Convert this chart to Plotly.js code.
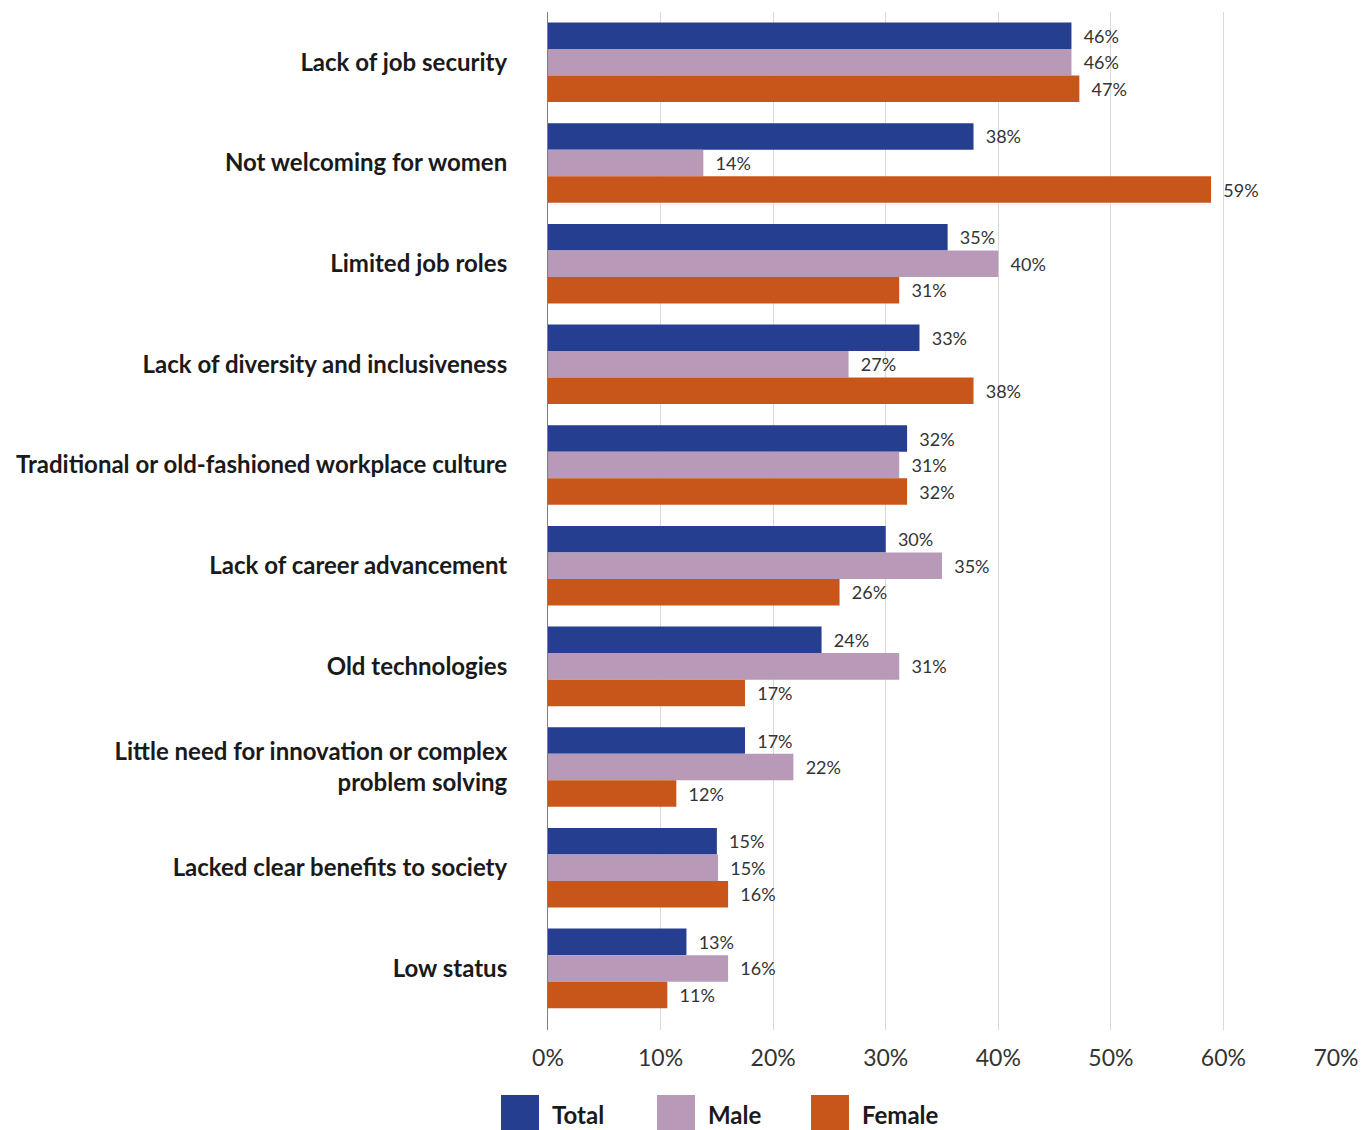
<!DOCTYPE html>
<html>
<head>
<meta charset="utf-8">
<script src="https://cdn.plot.ly/plotly-3.0.1.min.js"></script>
<style>html,body{margin:0;padding:0;background:#fff;}#chart{width:1368px;height:1130px;}</style>
</head>
<body>
<div id="chart"></div>
<script>
const categories = [
  "Lack of job security",
  "Not welcoming for women",
  "Limited job roles",
  "Lack of diversity and inclusiveness",
  "Traditional or old-fashioned workplace culture",
  "Lack of career advancement",
  "Old technologies",
  "Little need for innovation or complex<br>problem solving",
  "Lacked clear benefits to society",
  "Low status"
];
const totalValues  = [46.5, 37.8, 35.5, 33.0, 31.9, 30.0, 24.3, 17.5, 15.0, 12.3];
const maleValues   = [46.5, 13.8, 40.0, 26.7, 31.2, 35.0, 31.2, 21.8, 15.1, 16.0];
const femaleValues = [47.2, 58.9, 31.2, 37.8, 31.9, 25.9, 17.5, 11.4, 16.0, 10.6];
const totalLabels  = ["46%","38%","35%","33%","32%","30%","24%","17%","15%","13%"];
const maleLabels   = ["46%","14%","40%","27%","31%","35%","31%","22%","15%","16%"];
const femaleLabels = ["47%","59%","31%","38%","32%","26%","17%","12%","16%","11%"];
const seriesNames  = ["Total","Male","Female"];
const seriesColors = ["#253e8f","#b89ab8","#c8561a"];
const tickVals = [0,10,20,30,40,50,60,70];
const tickText = ["0%","10%","20%","30%","40%","50%","60%","70%"];

const FONT = "Lato, 'Open Sans', sans-serif";
const vals = [totalValues, maleValues, femaleValues];
const labs = [totalLabels, maleLabels, femaleLabels];

const traces = seriesNames.map((n, i) => ({
  type: "bar",
  orientation: "h",
  name: n,
  y: categories,
  x: vals[i],
  text: labs[i],
  texttemplate: "  %{text}",
  textposition: "outside",
  cliponaxis: false,
  textfont: {family: FONT, size: 18, color: "#333333"},
  marker: {color: seriesColors[i]},
  showlegend: false,
  hoverinfo: "skip"
}));

// custom legend built in paper coordinates
const shapes = [];
const annotations = [];
const legX = [501, 657, 811];
const W = 1368, H = 1130, L = 548, R = 32, T = 12, B = 100;
const pw = W - L - R, ph = H - T - B;
const px = x => (x - L) / pw;
const py = y => (H - B - y) / ph;
seriesNames.forEach((n, i) => {
  shapes.push({type: "rect", xref: "paper", yref: "paper",
    x0: px(legX[i]), x1: px(legX[i] + 38), y0: py(1133), y1: py(1095),
    fillcolor: seriesColors[i], line: {width: 0}});
  annotations.push({xref: "paper", yref: "paper", x: px(legX[i] + 49), y: py(1114),
    xanchor: "left", yanchor: "middle", showarrow: false, text: "<b>" + n + "</b>",
    font: {family: FONT, size: 24, color: "#1a1a1a"}});
});

const layout = {
  width: W, height: H,
  margin: {l: L, r: R, t: T, b: B, pad: 0},
  paper_bgcolor: "#ffffff",
  plot_bgcolor: "#ffffff",
  barmode: "group",
  bargap: 0.21,
  bargroupgap: 0,
  showlegend: false,
  font: {family: FONT},
  xaxis: {
    range: [0, 70],
    tickvals: tickVals,
    ticktext: tickText,
    showgrid: true,
    gridcolor: "#d9d9d9",
    gridwidth: 1,
    zeroline: false,
    showline: false,
    ticks: "",
    tickfont: {family: FONT, size: 23, color: "#333333"},
    ticklabelstandoff: 12,
    fixedrange: true
  },
  yaxis: {
    range: [9.612, -0.5],
    showline: true,
    linecolor: "#808080",
    linewidth: 1,
    ticks: "",
    showgrid: false,
    tickfont: {family: FONT, size: 24, color: "#1a1a1a", weight: "bold"},
    ticklabelstandoff: 35,
    fixedrange: true
  },
  shapes: shapes,
  annotations: annotations
};

Plotly.newPlot("chart", traces, layout, {displayModeBar: false, staticPlot: true});
</script>
</body>
</html>
